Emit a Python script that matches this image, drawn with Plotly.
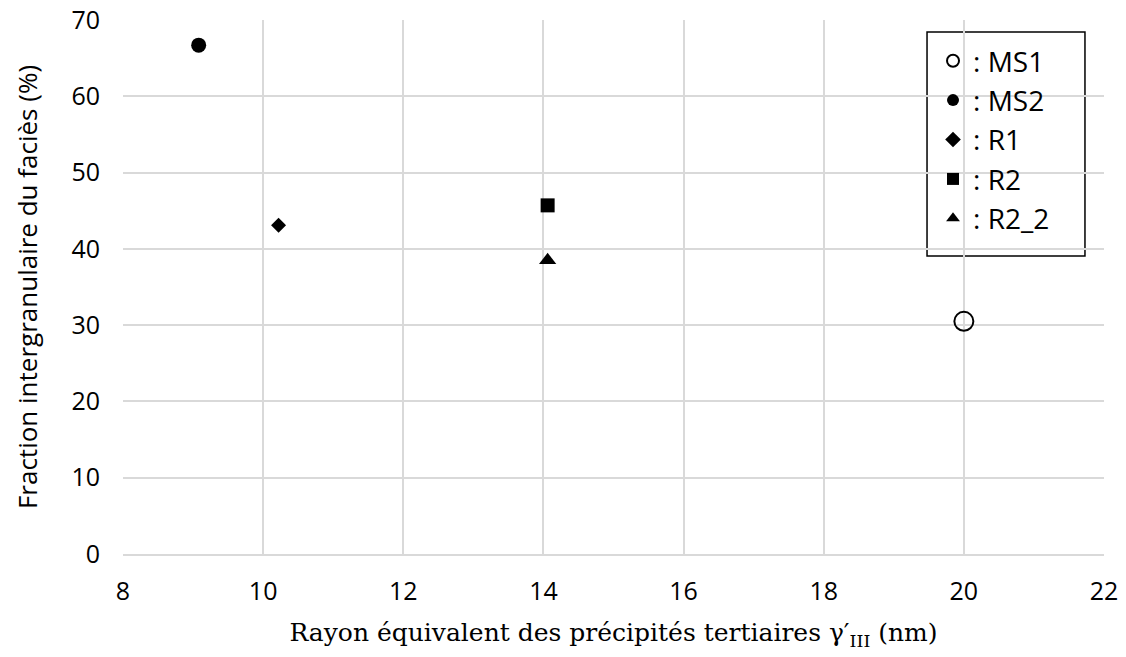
import plotly.graph_objects as go

# Data
names = ["MS1", "MS2", "R1", "R2", "R2_2"]
rayon = [20.0, 9.08, 10.22, 14.06, 14.06]
fraction = [30.5, 66.7, 43.1, 45.7, 38.5]
symbols = ["circle-open", "circle", "diamond", "square", "triangle-up"]
sizes = [19, 15, 11.5, 14, 15]

fig = go.Figure()

for n, x, y, s, sz in zip(names, rayon, fraction, symbols, sizes):
    fig.add_trace(go.Scatter(
        x=[x], y=[y],
        mode="markers",
        name=": " + n,
        marker=dict(symbol=s, size=sz, color="black",
                    line=dict(color="black", width=2 if s == "circle-open" else 0)),
    ))

# legend frame (drawn as a shape so it can be wider than the entries)
fig.add_shape(type="rect", xref="paper", yref="paper",
              x0=0.8196, x1=0.9806, y0=0.558, y1=0.9775,
              line=dict(color="black", width=1.5), fillcolor="white", layer="below")

fig.update_layout(
    width=1126, height=657,
    margin=dict(l=123, r=22, t=20, b=103),
    plot_bgcolor="white",
    paper_bgcolor="white",
    font=dict(family="Open Sans, Noto Sans, sans-serif", size=25, color="black"),
    showlegend=True,
    legend=dict(
        x=0.8257, y=0.970, xanchor="left", yanchor="top",
        borderwidth=0, bgcolor="rgba(0,0,0,0)",
        font=dict(size=28),
        itemsizing="constant",
    ),
)

fig.update_xaxes(
    range=[8, 22], dtick=2, tick0=8,
    showgrid=True, gridcolor="#d9d9d9", gridwidth=1.5,
    showline=True, linecolor="#d9d9d9", linewidth=1.5,
    zeroline=False, ticks="", automargin=False,
    ticklabelstandoff=14,
    title=dict(text="Rayon équivalent des précipités tertiaires γ′<sub>III</sub> (nm)",
               font=dict(family="DejaVu Serif, Liberation Serif, serif", size=25), standoff=18),
)
fig.update_yaxes(
    range=[0, 70], dtick=10,
    showgrid=True, gridcolor="#d9d9d9", gridwidth=1.5,
    showline=False, zeroline=False, ticks="", automargin=False,
    ticklabelstandoff=22,
    title=dict(text="Fraction intergranulaire du faciès (%)", font=dict(size=26), standoff=26),
)

fig.write_html("out.html", config={"displayModeBar": False},
               post_script="document.body.style.margin='0';")
